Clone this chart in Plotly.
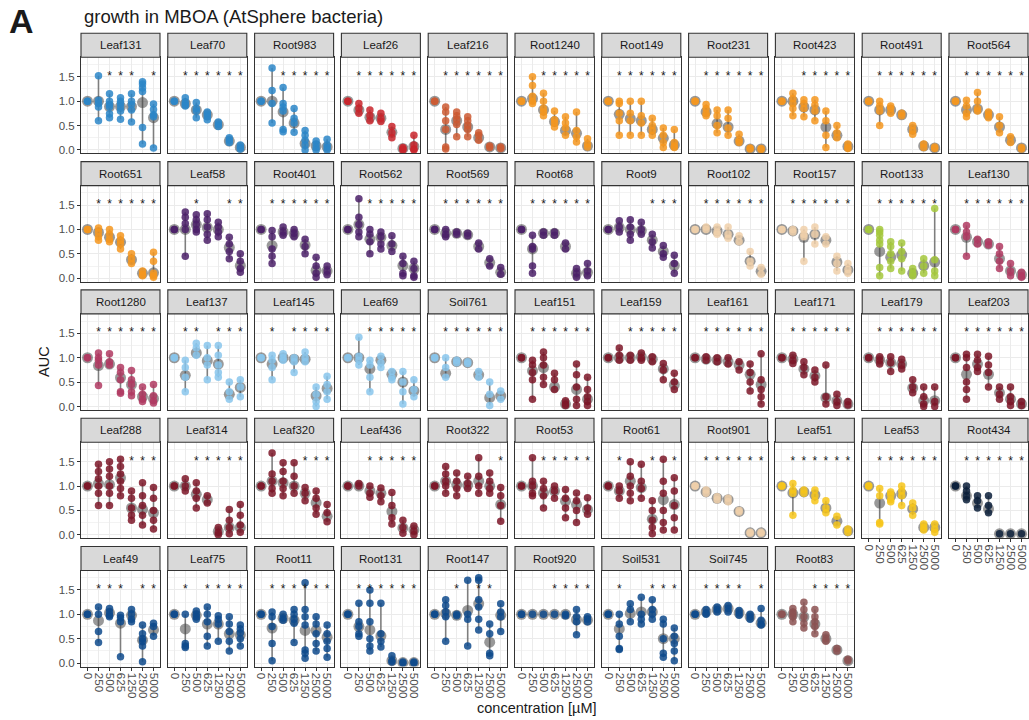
import plotly.graph_objects as go

concentrations = ["0", "250", "500", "625", "1250", "2500", "5000"]

strains = ["Leaf131", "Leaf70", "Root983", "Leaf26", "Leaf216", "Root1240", "Root149", "Root231", "Root423", "Root491", "Root564",
           "Root651", "Leaf58", "Root401", "Root562", "Root569", "Root68", "Root9", "Root102", "Root157", "Root133", "Leaf130",
           "Root1280", "Leaf137", "Leaf145", "Leaf69", "Soil761", "Leaf151", "Leaf159", "Leaf161", "Leaf171", "Leaf179", "Leaf203",
           "Leaf288", "Leaf314", "Leaf320", "Leaf436", "Root322", "Root53", "Root61", "Root901", "Leaf51", "Leaf53", "Root434",
           "Leaf49", "Leaf75", "Root11", "Root131", "Root147", "Root920", "Soil531", "Soil745", "Root83"]

BLUE, RED, RUST, ORANGE, PURPLE, PEACH, LIME, ROSE, SKY, DRED, GOLD, NAVY, DBLUE, MAUVE = (
    "#2C86C8", "#C9252B", "#CC5A33", "#F5961E", "#4B2068", "#F0D0AA", "#A5C83C", "#B03A62",
    "#88C5EC", "#7C1628", "#F7C51A", "#0B1F3A", "#0E4A8C", "#8C5252")

strain_colors = [BLUE, BLUE, BLUE, RED, RUST, ORANGE, ORANGE, ORANGE, ORANGE, ORANGE, ORANGE,
                 ORANGE, PURPLE, PURPLE, PURPLE, PURPLE, PURPLE, PURPLE, PEACH, PEACH, LIME, ROSE,
                 ROSE, SKY, SKY, SKY, SKY, DRED, DRED, DRED, DRED, DRED, DRED,
                 DRED, DRED, DRED, DRED, DRED, DRED, DRED, PEACH, GOLD, GOLD, NAVY,
                 DBLUE, DBLUE, DBLUE, DBLUE, DBLUE, DBLUE, DBLUE, DBLUE, MAUVE]

# significance flags per concentration ("1" = star)
significance = ["0011101", "0111111", "0011111", "0111111", "0111111", "0011111", "0111111", "0111111", "0011111", "0111111", "0111111",
                "0111111", "0010011", "0111111", "0011111", "0111111", "0111111", "0000111", "0111111", "0111111", "0111111", "0111111",
                "0111111", "0110111", "0101111", "0011111", "0111111", "0111111", "0011111", "0111111", "0111111", "0111111", "0111111",
                "0000111", "0011111", "0000111", "0011111", "0000001", "0011111", "0100101", "0111111", "0111111", "0111111", "0111111",
                "0111011", "0101111", "0111111", "0111111", "0010110", "0001111", "0100111", "0111101", "0001111"]

# mean AUC per concentration
auc_mean = [
    [1.0, 1.0, 0.89, 0.89, 0.89, 0.97, 0.66],
    [1.0, 0.95, 0.82, 0.72, 0.52, 0.18, 0.05],
    [1.0, 1.0, 0.78, 0.55, 0.13, 0.08, 0.06],
    [1.0, 0.82, 0.67, 0.65, 0.36, 0.03, 0.07],
    [1.0, 0.42, 0.6, 0.47, 0.25, 0.06, 0.04],
    [1.0, 1.05, 0.82, 0.58, 0.4, 0.34, 0.08],
    [1.0, 0.73, 0.64, 0.6, 0.42, 0.24, 0.1],
    [1.0, 0.78, 0.54, 0.47, 0.18, 0.02, 0.02],
    [1.0, 1.0, 0.88, 0.82, 0.47, 0.3, 0.07],
    [1.0, 0.82, 0.82, 0.72, 0.42, 0.08, 0.04],
    [1.0, 0.82, 0.84, 0.72, 0.47, 0.2, 0.04],
    [1.0, 0.94, 0.84, 0.74, 0.38, 0.1, 0.11],
    [1.0, 1.0, 1.1, 1.04, 1.0, 0.63, 0.26],
    [1.0, 0.67, 0.95, 0.91, 0.68, 0.16, 0.15],
    [1.0, 1.1, 0.8, 0.84, 0.67, 0.26, 0.2],
    [1.0, 0.92, 0.92, 0.89, 0.65, 0.32, 0.12],
    [1.0, 0.6, 0.92, 0.92, 0.65, 0.1, 0.12],
    [1.0, 1.04, 1.0, 0.98, 0.78, 0.55, 0.26],
    [1.0, 1.0, 0.97, 0.9, 0.78, 0.35, 0.14],
    [1.0, 0.97, 0.84, 0.9, 0.78, 0.33, 0.17],
    [1.0, 0.55, 0.43, 0.48, 0.1, 0.26, 0.33],
    [1.0, 0.84, 0.75, 0.7, 0.4, 0.15, 0.07],
    [1.0, 0.84, 0.87, 0.59, 0.45, 0.2, 0.16],
    [1.0, 0.64, 1.1, 0.94, 0.87, 0.25, 0.39],
    [1.0, 0.87, 1.0, 0.97, 0.97, 0.22, 0.37],
    [1.0, 1.0, 0.77, 0.95, 0.66, 0.5, 0.32],
    [1.0, 0.68, 0.92, 0.9, 0.65, 0.18, 0.22],
    [1.0, 0.73, 0.8, 0.4, 0.05, 0.35, 0.15],
    [1.0, 1.0, 1.0, 1.02, 0.97, 0.77, 0.45],
    [1.0, 0.97, 0.95, 0.92, 0.85, 0.66, 0.45],
    [1.0, 0.97, 0.77, 0.63, 0.18, 0.12, 0.05],
    [1.0, 0.95, 0.9, 0.87, 0.38, 0.12, 0.12],
    [1.0, 0.66, 0.87, 0.66, 0.28, 0.15, 0.05],
    [1.0, 1.05, 1.03, 1.17, 0.55, 0.52, 0.45],
    [1.0, 1.0, 0.83, 0.72, 0.07, 0.15, 0.15],
    [1.0, 1.1, 1.07, 1.0, 0.85, 0.66, 0.38],
    [1.0, 1.0, 0.9, 0.85, 0.48, 0.14, 0.1],
    [1.0, 1.1, 1.03, 1.02, 1.1, 1.0, 0.62],
    [1.0, 1.0, 0.86, 0.9, 0.69, 0.62, 0.52],
    [1.0, 0.9, 1.1, 0.97, 0.32, 0.72, 0.62],
    [1.0, 0.88, 0.75, 0.72, 0.48, 0.04, 0.04],
    [1.0, 0.86, 0.88, 0.82, 0.55, 0.28, 0.08],
    [1.0, 0.65, 0.8, 0.84, 0.53, 0.15, 0.15],
    [1.0, 0.8, 0.65, 0.53, 0.02, 0.02, 0.02],
    [1.0, 0.87, 1.03, 0.82, 0.98, 0.47, 0.68],
    [1.0, 0.7, 0.98, 0.8, 0.8, 0.6, 0.58],
    [1.0, 0.72, 0.92, 0.88, 0.67, 0.67, 0.53],
    [1.0, 0.75, 0.68, 0.56, 0.05, 0.01, 0.01],
    [1.0, 1.02, 0.98, 1.08, 1.22, 0.43, 0.98],
    [1.0, 1.0, 1.0, 1.0, 1.0, 0.89, 0.88],
    [1.0, 0.7, 1.02, 1.05, 1.05, 0.5, 0.5],
    [1.0, 1.05, 1.1, 1.12, 1.03, 0.95, 0.82],
    [1.0, 1.0, 0.95, 0.8, 0.5, 0.27, 0.05],
]

# individual replicate AUC values per concentration
auc_points = [
    [[1.0, 1.0], [1.52, 1.02, 0.95, 0.88, 0.6], [1.15, 1.0, 0.93, 0.88, 0.74, 0.66], [1.07, 1.0, 0.95, 0.88, 0.8, 0.63], [1.15, 1.0, 0.93, 0.82, 0.57], [1.4, 1.35, 1.27, 1.2, 0.46, 0.12], [0.94, 0.83, 0.72, 0.68, 0.04]],
    [[1.0, 1.0], [1.07, 0.98, 0.93, 0.9], [0.97, 0.85, 0.8, 0.66], [0.78, 0.73, 0.68, 0.62], [0.57, 0.52, 0.48], [0.25, 0.2, 0.15], [0.1, 0.05, 0.02]],
    [[1.0, 1.0], [1.68, 1.22, 0.95, 0.55], [1.28, 0.95, 0.88, 0.8, 0.42, 0.37], [0.85, 0.65, 0.55, 0.36], [0.4, 0.3, 0.2, 0.1, 0.0], [0.18, 0.12, 0.05, 0.0], [0.22, 0.1, 0.05, 0.0]],
    [[1.0, 1.0], [0.95, 0.85, 0.75], [0.82, 0.7, 0.6], [0.75, 0.65, 0.58], [0.48, 0.35, 0.25], [0.05, 0.02, 0.0], [0.3, 0.1, 0.02, 0.0]],
    [[1.0, 1.0], [0.88, 0.78, 0.6, 0.42, 0.06, 0.02], [0.78, 0.7, 0.62, 0.52, 0.27], [0.68, 0.6, 0.5, 0.42, 0.27], [0.35, 0.3, 0.2], [0.08, 0.05], [0.06, 0.03]],
    [[1.0, 1.0], [1.5, 1.32, 1.1, 1.0, 0.95], [1.16, 1.0, 0.85, 0.78, 0.7], [0.8, 0.62, 0.55, 0.47], [0.68, 0.55, 0.45, 0.3], [0.78, 0.4, 0.27, 0.16], [0.23, 0.12, 0.06]],
    [[1.0, 1.0], [1.0, 0.95, 0.75, 0.6, 0.3], [1.0, 0.75, 0.6, 0.3], [1.0, 0.7, 0.55, 0.3], [0.65, 0.5, 0.4, 0.3], [0.45, 0.3, 0.15, 0.05], [0.42, 0.15, 0.08, 0.05]],
    [[1.0, 1.0], [0.93, 0.85, 0.75, 0.7], [0.82, 0.7, 0.5, 0.35], [0.82, 0.65, 0.45, 0.3], [0.32, 0.2, 0.15], [0.04, 0.02], [0.03, 0.01]],
    [[1.0, 1.0], [1.16, 1.05, 0.95, 0.85, 0.7], [1.03, 0.95, 0.85, 0.68], [1.03, 0.92, 0.8, 0.6], [0.8, 0.6, 0.3, 0.05], [0.5, 0.35, 0.25], [0.12, 0.05, 0.03]],
    [[1.0, 1.0], [1.0, 0.9, 0.8, 0.5], [0.9, 0.85, 0.75], [0.75, 0.7], [0.5, 0.4, 0.32], [0.12, 0.05], [0.06, 0.03]],
    [[1.0, 1.0], [1.02, 0.9, 0.75, 0.68], [1.18, 1.0, 0.85, 0.8], [0.78, 0.72, 0.66], [0.68, 0.5, 0.35], [0.27, 0.15], [0.05, 0.02]],
    [[1.0, 1.0], [1.03, 0.95, 0.85, 0.78], [1.0, 0.9, 0.8, 0.75], [0.87, 0.78, 0.7, 0.6], [0.5, 0.4, 0.3], [0.15, 0.08, 0.05], [0.53, 0.35, 0.1, 0.05, 0.02]],
    [[1.0, 1.0], [1.36, 1.25, 1.12, 1.0, 0.45], [1.3, 1.2, 1.1, 1.0, 0.95], [1.32, 1.2, 1.05, 0.9, 0.78], [1.15, 1.05, 0.95, 0.85], [0.84, 0.7, 0.55, 0.4], [0.5, 0.35, 0.2, 0.12]],
    [[1.0, 1.0], [0.98, 0.85, 0.6, 0.45, 0.3], [1.05, 0.95, 0.88], [1.0, 0.92, 0.85], [0.8, 0.65, 0.5], [0.43, 0.25, 0.1, 0.02], [0.25, 0.15, 0.07]],
    [[1.0, 1.0], [1.63, 1.25, 1.1, 0.95, 0.85], [1.0, 0.9, 0.75, 0.5], [0.95, 0.85, 0.7, 0.6], [0.87, 0.7, 0.55], [0.45, 0.3, 0.1, 0.05], [0.35, 0.2, 0.05, 0.02]],
    [[1.0, 1.0], [1.0, 0.9, 0.85], [0.95, 0.9], [0.92, 0.87], [0.72, 0.6], [0.4, 0.25], [0.22, 0.08]],
    [[1.0, 1.0], [0.88, 0.65, 0.6, 0.25, 0.1], [0.95, 0.88], [0.95, 0.88], [0.72, 0.6], [0.2, 0.1, 0.02], [0.3, 0.15, 0.05]],
    [[1.0, 1.0], [1.18, 1.05, 0.95], [1.2, 1.05, 0.9, 0.78], [1.15, 1.0, 0.9], [0.9, 0.75, 0.62], [0.67, 0.5, 0.43], [0.47, 0.3, 0.1]],
    [[1.0, 1.0], [1.05, 1.0], [1.05, 0.95, 0.9], [1.05, 0.9, 0.82], [0.87, 0.75], [0.55, 0.35, 0.25], [0.22, 0.08]],
    [[1.0, 1.0], [1.0, 0.95], [1.0, 0.9, 0.85, 0.35], [1.05, 0.9, 0.7], [0.85, 0.7], [0.45, 0.3, 0.15], [0.3, 0.18, 0.1]],
    [[1.0, 1.0], [1.0, 0.95, 0.88, 0.78, 0.7, 0.22, 0.05], [0.75, 0.65, 0.5, 0.35, 0.2], [0.72, 0.55, 0.4, 0.15], [0.2, 0.1, 0.05], [0.4, 0.25, 0.1], [1.43, 0.38, 0.15, 0.05]],
    [[1.0, 1.0], [1.08, 0.95, 0.85, 0.45], [0.8, 0.7], [0.75, 0.68], [0.65, 0.5, 0.35, 0.2], [0.3, 0.15, 0.05], [0.12, 0.05, 0.02]],
    [[1.0, 1.0], [1.1, 1.0, 0.95, 0.85, 0.43], [1.08, 0.92, 0.85], [0.8, 0.7, 0.55, 0.3, 0.27], [0.74, 0.55, 0.45, 0.3, 0.22], [0.4, 0.25, 0.15, 0.1], [0.45, 0.22, 0.12, 0.07]],
    [[1.0, 1.0], [0.95, 0.8, 0.6, 0.3], [1.3, 1.2, 1.05], [1.25, 1.0, 0.85, 0.55], [1.25, 1.05, 0.85, 0.7, 0.6], [0.5, 0.3, 0.15], [0.55, 0.4, 0.2]],
    [[1.0, 1.0], [1.05, 0.95, 0.8, 0.55], [1.08, 1.0, 0.95], [1.0, 0.92, 0.7], [1.12, 1.0, 0.92], [0.4, 0.25, 0.1, 0.0], [0.62, 0.45, 0.3, 0.15]],
    [[1.0, 1.0], [1.42, 1.03, 0.95, 0.85], [0.95, 0.85, 0.6, 0.3], [1.03, 0.9, 0.8], [0.72, 0.6, 0.55], [0.72, 0.5, 0.3, 0.05], [0.55, 0.35, 0.2]],
    [[1.0, 1.0], [1.0, 0.8, 0.6], [0.95, 0.9], [0.92, 0.88], [0.72, 0.6], [0.5, 0.25, 0.02], [0.32, 0.15]],
    [[1.0, 1.0], [0.95, 0.85, 0.7, 0.55, 0.15], [1.12, 1.0, 0.85, 0.6, 0.45], [0.68, 0.55, 0.35], [0.12, 0.05, 0.02], [0.87, 0.65, 0.4, 0.15, 0.02], [0.6, 0.35, 0.2, 0.1, 0.02]],
    [[1.0, 1.0], [1.2, 1.05, 0.95], [1.05, 0.95], [1.1, 1.0, 0.95], [1.02, 0.92], [0.88, 0.75, 0.55], [0.68, 0.5, 0.35]],
    [[1.0, 1.0], [1.02, 0.95], [1.0, 0.92], [1.0, 0.87], [0.92, 0.75], [0.87, 0.7, 0.5, 0.32], [1.08, 0.55, 0.35, 0.2, 0.05]],
    [[1.0, 1.0], [1.05, 0.95, 0.88], [0.92, 0.8, 0.65], [0.75, 0.6, 0.5], [0.85, 0.2, 0.05], [0.25, 0.1, 0.02], [0.1, 0.03]],
    [[1.0, 1.0], [1.02, 0.95, 0.87], [1.02, 0.9, 0.72], [0.97, 0.85, 0.77], [0.55, 0.4, 0.28], [0.4, 0.2, 0.05, 0.0], [0.4, 0.1, 0.0]],
    [[1.0, 1.0], [1.07, 1.0, 0.8, 0.5, 0.35, 0.15], [1.07, 0.95, 0.8, 0.72], [1.03, 0.85, 0.7, 0.4], [0.4, 0.25, 0.15], [0.4, 0.2, 0.1, 0.02], [0.1, 0.02]],
    [[1.0, 1.0], [1.45, 1.3, 1.15, 1.0, 0.85, 0.6], [1.5, 1.35, 1.2, 1.0, 0.85, 0.6], [1.55, 1.4, 1.25, 1.1, 0.95, 0.8], [0.9, 0.75, 0.55, 0.4, 0.3], [1.07, 0.8, 0.6, 0.4, 0.2], [0.97, 0.75, 0.5, 0.3, 0.12]],
    [[1.0, 1.0], [1.15, 1.0, 0.9], [1.07, 0.9, 0.75, 0.55], [0.8, 0.65], [0.15, 0.05, 0.0], [0.52, 0.3, 0.15, 0.02], [0.62, 0.4, 0.2, 0.05]],
    [[1.0, 1.0], [1.68, 1.25, 1.1, 0.95, 0.85], [1.48, 1.3, 1.1, 0.95, 0.8], [1.48, 1.2, 1.0, 0.85], [0.97, 0.85, 0.7], [0.9, 0.75, 0.55, 0.42], [0.62, 0.45, 0.27]],
    [[1.0, 1.0], [1.05, 1.0], [1.0, 0.85, 0.77], [0.96, 0.8, 0.68], [0.87, 0.6, 0.35, 0.22], [0.3, 0.15, 0.03], [0.18, 0.08, 0.0]],
    [[1.0, 1.0], [1.4, 1.25, 1.1, 1.0, 0.85], [1.27, 1.1, 0.95, 0.8], [1.2, 1.05, 0.95], [1.58, 1.2, 1.0, 0.85], [1.27, 1.1, 0.95, 0.85], [0.97, 0.8, 0.6, 0.28]],
    [[1.0, 1.0], [1.58, 1.1, 1.0, 0.85, 0.8], [1.1, 0.95, 0.8, 0.55], [1.0, 0.9, 0.75], [0.93, 0.75, 0.55, 0.35], [0.86, 0.7, 0.5, 0.25], [0.76, 0.55, 0.42]],
    [[1.0, 1.0], [1.0, 0.9, 0.75], [1.5, 1.2, 1.0, 0.85, 0.7], [1.45, 1.1, 0.95, 0.75], [0.7, 0.5, 0.3, 0.15, 0.02], [1.55, 1.1, 0.85, 0.5, 0.25, 0.1], [1.17, 0.9, 0.6, 0.35, 0.1]],
    [[1.0, 1.0], [0.92, 0.85], [0.78, 0.72], [0.75, 0.68], [0.5, 0.47], [0.05, 0.03], [0.05, 0.03]],
    [[1.0, 1.0], [1.05, 0.92, 0.85, 0.4], [0.92, 0.85], [0.92, 0.8, 0.7], [0.7, 0.55, 0.45], [0.38, 0.2], [0.12, 0.05]],
    [[1.0, 1.0], [0.95, 0.8, 0.25, 0.22], [0.88, 0.82, 0.72, 0.68], [1.0, 0.9, 0.8, 0.6], [0.65, 0.55, 0.4], [0.22, 0.15, 0.1], [0.22, 0.12, 0.05]],
    [[1.0, 1.0], [1.0, 0.9, 0.8, 0.72], [0.8, 0.7, 0.55], [0.8, 0.6, 0.45], [0.02], [0.02], [0.02]],
    [[1.0, 1.0], [1.15, 1.0, 0.65, 0.42], [1.12, 1.05, 0.98, 0.95], [0.98, 0.93, 0.85, 0.13], [1.1, 1.0, 0.9, 0.85], [0.78, 0.6, 0.5, 0.45, 0.35, 0.03], [0.82, 0.75, 0.55]],
    [[1.0, 1.0], [1.0, 0.4, 0.35, 0.32], [1.07, 1.0, 0.95, 0.9], [1.15, 1.0, 0.85, 0.55, 0.35], [0.97, 0.9, 0.8, 0.45], [0.95, 0.8, 0.65, 0.45, 0.25], [0.78, 0.7, 0.62, 0.5, 0.35]],
    [[1.0, 1.0], [1.05, 0.95, 0.75, 0.4, 0.05], [1.0, 0.92, 0.88], [1.1, 1.0, 0.9, 0.82, 0.42], [1.65, 1.1, 0.95, 0.78, 0.27, 0.2, 0.1], [0.95, 0.8, 0.6, 0.4, 0.25], [0.78, 0.6, 0.45, 0.3, 0.12]],
    [[1.0, 1.0], [1.23, 0.85, 0.75, 0.6, 0.55], [1.5, 1.23, 0.85, 0.5, 0.35, 0.25], [1.23, 0.6, 0.45, 0.33], [0.15, 0.05, 0.02], [0.02, 0.0], [0.02, 0.0]],
    [[1.0, 1.0], [1.3, 1.18, 1.05, 0.95, 0.45], [1.0, 0.97], [1.7, 1.0, 0.9, 0.35], [1.75, 1.7, 1.3, 1.15, 0.9, 0.68], [0.8, 0.6, 0.2, 0.15], [1.22, 1.05, 0.95, 0.65]],
    [[1.0, 1.0], [1.0], [1.0], [1.0], [1.0, 0.97], [1.1, 0.95, 0.85, 0.58], [0.95, 0.9, 0.85]],
    [[1.0, 1.0], [1.0, 0.8, 0.55, 0.3, 0.28], [1.22, 1.1, 0.85], [1.35, 1.0, 0.9, 0.8], [1.3, 1.1, 1.0, 0.9], [0.9, 0.8, 0.5, 0.2, 0.12], [0.72, 0.55, 0.4, 0.25, 0.05]],
    [[1.0, 1.0], [1.1, 1.03, 1.0], [1.15, 1.1, 1.05], [1.18, 1.12, 1.05], [1.08, 1.03, 0.98], [1.0, 0.95, 0.9], [1.12, 0.88, 0.8, 0.78]],
    [[1.0, 1.0], [1.12, 1.05, 1.0, 0.95, 0.85], [1.25, 1.1, 0.95, 0.82, 0.72], [1.1, 0.95, 0.85, 0.75, 0.6], [0.58, 0.5, 0.45], [0.3, 0.25], [0.08, 0.05]],
]

W, H = 1029, 720
NCOL = 11
LEFT0, PITCH_X, PW = 81.0, 86.8, 79.0
TOP0, PITCH_Y, SH, PH = 33.3, 128.3, 24.0, 96.0
YR = [-0.07, 1.9]
XR = [-0.59, 6.59]
STAR_Y = 1.5
FONT = "Liberation Sans, Arial, Helvetica, sans-serif"

fig = go.Figure()
layout = {}
shapes = []
annotations = []

for i, name in enumerate(strains):
    r, c = divmod(i, NCOL)
    k = "" if i == 0 else str(i + 1)
    left = LEFT0 + PITCH_X * c
    right = left + PW
    stop = TOP0 + PITCH_Y * r
    ptop = stop + SH
    pbot = ptop + PH
    bottom_panel = (r == 4) or (r == 3 and c >= 9)
    col = strain_colors[i]

    layout["xaxis" + k] = dict(
        domain=[left / W, right / W], anchor="y" + k, range=XR, automargin=False,
        tickmode="array", tickvals=list(range(7)), ticktext=concentrations,
        showticklabels=bottom_panel, ticks="outside" if bottom_panel else "",
        ticklen=3, tickcolor="#333333", tickangle=90,
        tickfont=dict(family=FONT, size=11.5, color="#4D4D4D"),
        showgrid=True, gridcolor="#EBEBEB", gridwidth=1.1,
        zeroline=False, showline=True, mirror=True, linecolor="#333333", linewidth=1.1,
        fixedrange=True,
    )
    layout["yaxis" + k] = dict(
        domain=[1 - pbot / H, 1 - ptop / H], anchor="x" + k, range=YR, automargin=False,
        tickmode="array", tickvals=[0, 0.5, 1.0, 1.5], ticktext=["0.0", "0.5", "1.0", "1.5"],
        showticklabels=(c == 0), ticks="outside" if c == 0 else "",
        ticklen=3, tickcolor="#333333",
        tickfont=dict(family=FONT, size=11.5, color="#4D4D4D"),
        showgrid=True, gridcolor="#EBEBEB", gridwidth=1.1,
        minor=dict(tickvals=[0.25, 0.75, 1.25, 1.75], showgrid=True, gridcolor="#F3F3F3", gridwidth=0.6, ticks=""),
        zeroline=False, showline=True, mirror=True, linecolor="#333333", linewidth=1.1,
        fixedrange=True,
    )

    # strip
    shapes.append(dict(type="rect", xref="paper", yref="paper",
                       x0=left / W, x1=right / W, y0=1 - ptop / H, y1=1 - stop / H,
                       fillcolor="#D9D9D9", line=dict(color="#333333", width=1.1), layer="above"))
    annotations.append(dict(xref="paper", yref="paper", x=(left + right) / 2 / W, y=1 - (stop + SH / 2) / H,
                            text=name, showarrow=False, xanchor="center", yanchor="middle",
                            font=dict(family=FONT, size=11.5, color="#1A1A1A")))

    pts = auc_points[i]
    xs, ys = [], []
    lx, ly = [], []
    for j, vals in enumerate(pts):
        xs += [j] * len(vals)
        ys += vals
        lx += [j, j, None]
        ly += [min(vals), max(vals), None]

    fig.add_trace(go.Scatter(x=lx, y=ly, mode="lines", xaxis="x" + k, yaxis="y" + k,
                             line=dict(color="rgba(90,90,90,0.75)", width=1.6),
                             hoverinfo="skip", showlegend=False))
    fig.add_trace(go.Scatter(x=list(range(7)), y=auc_mean[i], mode="markers", xaxis="x" + k, yaxis="y" + k,
                             marker=dict(size=11, color="rgba(70,70,70,0.55)", line=dict(width=0)),
                             hoverinfo="skip", showlegend=False))
    fig.add_trace(go.Scatter(x=xs, y=ys, mode="markers", xaxis="x" + k, yaxis="y" + k,
                             marker=dict(size=7.5, color=col, opacity=0.85, line=dict(width=0)),
                             hoverinfo="skip", showlegend=False))
    sx = [j for j, f in enumerate(significance[i]) if f == "1"]
    fig.add_trace(go.Scatter(x=sx, y=[STAR_Y] * len(sx), mode="text", text=["*"] * len(sx),
                             xaxis="x" + k, yaxis="y" + k, textposition="middle center",
                             textfont=dict(family=FONT, size=12, color="#1A1A1A"),
                             hoverinfo="skip", showlegend=False))

annotations += [
    dict(xref="paper", yref="paper", x=7 / W, y=1 - 21 / H, text="<b>A</b>", showarrow=False,
         xanchor="left", yanchor="middle", font=dict(family=FONT, size=34, color="#1A1A1A")),
    dict(xref="paper", yref="paper", x=82 / W, y=1 - 16 / H, text="growth in MBOA (AtSphere bacteria)", showarrow=False,
         xanchor="left", yanchor="middle", font=dict(family=FONT, size=18.5, color="#1A1A1A")),
    dict(xref="paper", yref="paper", x=44 / W, y=1 - 362 / H, text="AUC", showarrow=False, textangle=-90,
         xanchor="center", yanchor="middle", font=dict(family=FONT, size=14.5, color="#1A1A1A")),
    dict(xref="paper", yref="paper", x=537 / W, y=1 - 708 / H, text="concentration [µM]", showarrow=False,
         xanchor="center", yanchor="middle", font=dict(family=FONT, size=14.5, color="#1A1A1A")),
]

fig.update_layout(
    width=W, height=H, margin=dict(l=0, r=0, t=0, b=0, autoexpand=False),
    paper_bgcolor="white", plot_bgcolor="white",
    shapes=shapes, annotations=annotations, showlegend=False,
    **layout,
)

fig.write_html("out.html", config={"displayModeBar": False},
               post_script="document.body.style.margin='0px';document.body.style.overflow='hidden';")
